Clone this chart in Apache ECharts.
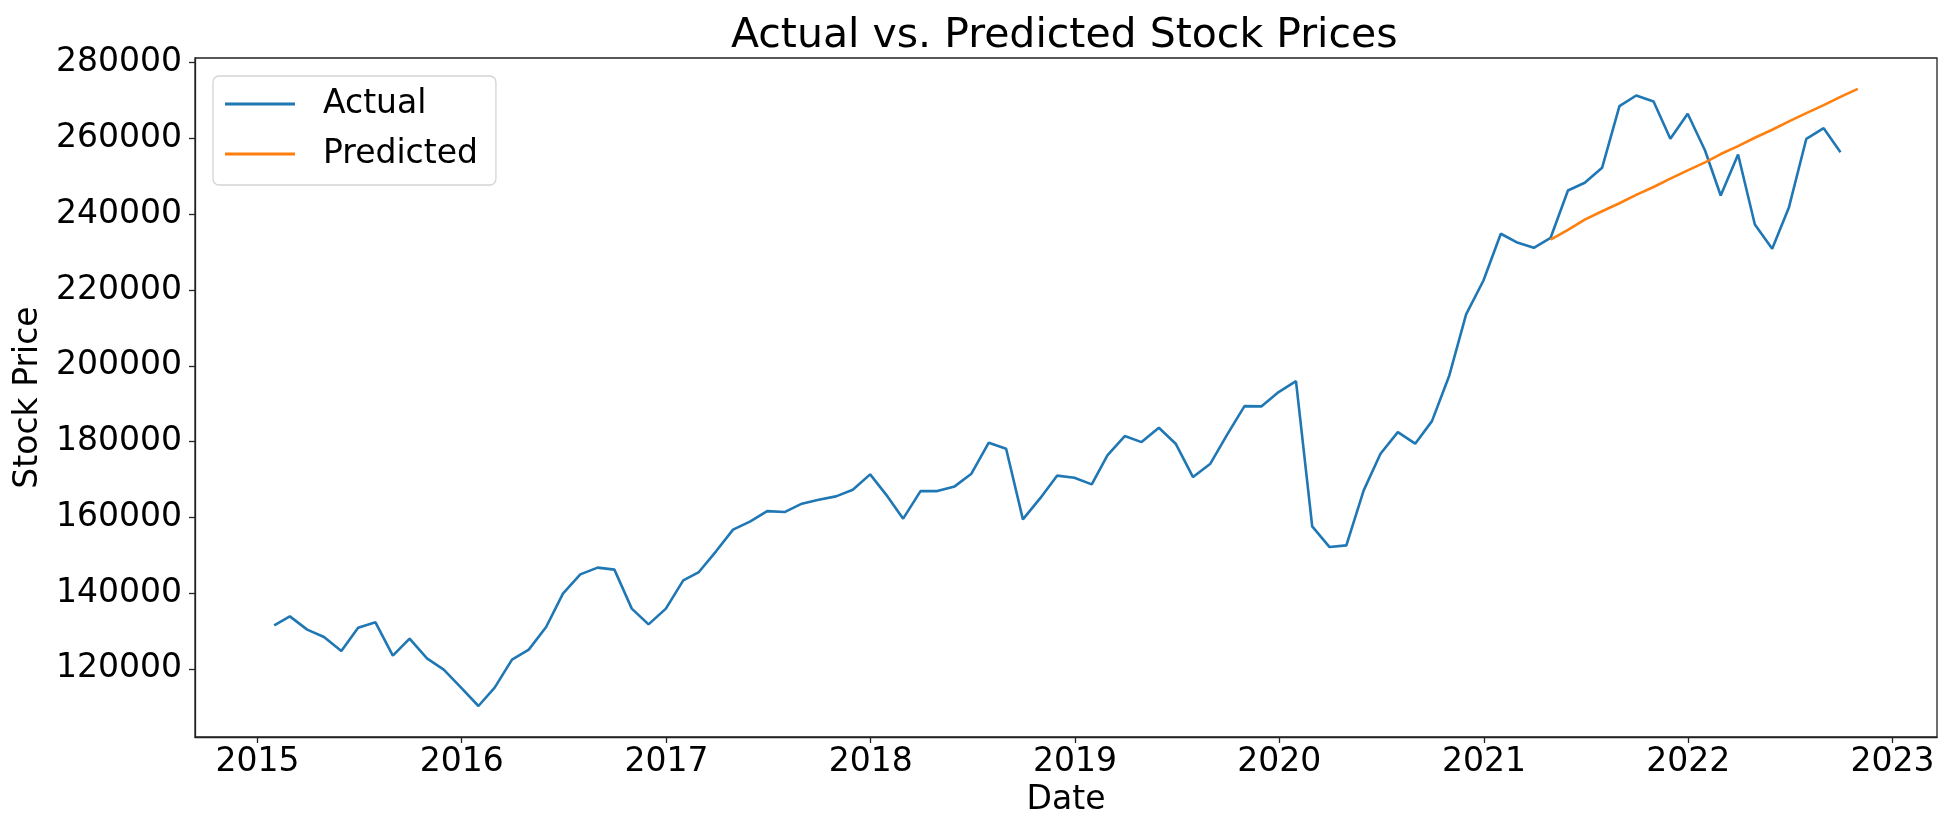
<!DOCTYPE html>
<html style="height: 100%">
<head>
	<meta charset="UTF-8">
	<title>Actual vs. Predicted Stock Prices</title>
	<script src="https://cdn.jsdelivr.net/npm/echarts@6/dist/echarts.min.js" type="text/javascript" charset="utf-8"></script>
</head>
<body style="height: 100%; margin: 0; background: #fff">
	<div id="container" style="width: 1950px; height: 830px;"></div>
<script type="text/javascript">
	// monthly observations (month-end)
	var actualMonths = [
		'2015-01', '2015-02', '2015-03', '2015-04', '2015-05', '2015-06', '2015-07', '2015-08', '2015-09', '2015-10', '2015-11', '2015-12',
		'2016-01', '2016-02', '2016-03', '2016-04', '2016-05', '2016-06', '2016-07', '2016-08', '2016-09', '2016-10', '2016-11', '2016-12',
		'2017-01', '2017-02', '2017-03', '2017-04', '2017-05', '2017-06', '2017-07', '2017-08', '2017-09', '2017-10', '2017-11', '2017-12',
		'2018-01', '2018-02', '2018-03', '2018-04', '2018-05', '2018-06', '2018-07', '2018-08', '2018-09', '2018-10', '2018-11', '2018-12',
		'2019-01', '2019-02', '2019-03', '2019-04', '2019-05', '2019-06', '2019-07', '2019-08', '2019-09', '2019-10', '2019-11', '2019-12',
		'2020-01', '2020-02', '2020-03', '2020-04', '2020-05', '2020-06', '2020-07', '2020-08', '2020-09', '2020-10', '2020-11', '2020-12',
		'2021-01', '2021-02', '2021-03', '2021-04', '2021-05', '2021-06', '2021-07', '2021-08', '2021-09', '2021-10', '2021-11', '2021-12',
		'2022-01', '2022-02', '2022-03', '2022-04', '2022-05', '2022-06', '2022-07', '2022-08', '2022-09'
	];
	var actualValues = [
		131480, 133850, 130340, 128390, 124700, 130870, 132270, 123480, 127970, 122770, 119790, 115040,
		110180, 115040, 122430, 125070, 131030, 139850, 144940, 146710, 146180, 135890, 131740, 135890,
		143360, 145550, 151090, 156740, 158930, 161640, 161380, 163600, 164650, 165520, 167290, 171330,
		165520, 159640, 166920, 166920, 168160, 171510, 179690, 178110, 159450, 165050, 170990, 170460,
		168690, 176340, 181440, 179850, 183650, 179430, 170620, 174150, 181810, 189350, 189270, 193050,
		195950, 157610, 152140, 152590, 167110, 176790, 182490, 179430, 185390, 197450, 213550, 222520,
		234850, 232630, 231150, 233790, 246280, 248310, 252270, 268530, 271350, 269770, 259920, 266520,
		256830, 244960, 255780, 237300, 230890, 241870, 259920, 262720, 256380
	];
	var predictedMonths = [
		'2021-04', '2021-05', '2021-06', '2021-07', '2021-08', '2021-09', '2021-10', '2021-11', '2021-12',
		'2022-01', '2022-02', '2022-03', '2022-04', '2022-05', '2022-06', '2022-07', '2022-08', '2022-09', '2022-10'
	];
	var predictedValues = [
		233300, 235900, 238600, 240800, 242900, 245100, 247200, 249400, 251600,
		253700, 255900, 258000, 260200, 262300, 264500, 266700, 268800, 271000, 273100
	];
	var yearTicks = [2015, 2016, 2017, 2018, 2019, 2020, 2021, 2022, 2023];
	var priceTicks = [120000, 140000, 160000, 180000, 200000, 220000, 240000, 260000, 280000];

	function monthEnd(ym) {
		var p = ym.split('-');
		return new Date(+p[0], +p[1], 0).getTime();
	}
	function pairs(months, values) {
		return months.map(function(m, i) { return [monthEnd(m), values[i]]; });
	}
	var yearStarts = yearTicks.map(function(y) { return new Date(y, 0, 1).getTime(); });

	var font = 'DejaVu Sans';
	var ink = '#222';
	var dom = document.getElementById('container');
	var myChart = echarts.init(dom);

	var option = {
		animation: false,
		backgroundColor: '#fff',
		textStyle: { fontFamily: font },
		title: {
			text: 'Actual vs. Predicted Stock Prices',
			left: 731,
			top: 16,
			padding: 0,
			textStyle: { fontFamily: font, fontSize: 41, fontWeight: 'normal', color: '#000' }
		},
		legend: {
			orient: 'vertical',
			left: 213,
			top: 76,
			padding: [10, 18, 13, 12],
			itemGap: 14,
			itemWidth: 70,
			itemHeight: 3,
			icon: 'rect',
			backgroundColor: 'rgba(255,255,255,0.8)',
			borderColor: '#d4d4d4',
			borderWidth: 1.3,
			borderRadius: 6,
			textStyle: { fontFamily: font, fontSize: 33, lineHeight: 36, color: '#000', padding: [0, 0, 0, 23] },
			data: ['Actual', 'Predicted']
		},
		grid: {
			left: 195, right: 13, top: 58, bottom: 93,
			show: true, borderColor: ink, borderWidth: 1.3,
			containLabel: false
		},
		xAxis: {
			type: 'value',
			min: new Date(2014, 8, 11, 12).getTime(),
			max: new Date(2023, 2, 21, 12).getTime(),
			name: 'Date',
			nameLocation: 'middle',
			nameGap: 42,
			nameTextStyle: { fontFamily: font, fontSize: 33, color: '#000' },
			axisLine: { show: true, lineStyle: { color: ink, width: 1.3 } },
			axisTick: {
				show: true, length: 6, lineStyle: { color: ink, width: 1.3 },
				customValues: yearStarts
			},
			axisLabel: {
				margin: 9,
				fontFamily: font, fontSize: 33, color: '#000',
				customValues: yearStarts,
				formatter: function(v) { return String(new Date(v).getFullYear()); }
			},
			splitLine: { show: false }
		},
		yAxis: {
			type: 'value',
			min: 102000,
			max: 281250,
			name: 'Stock Price',
			nameLocation: 'middle',
			nameGap: 150,
			nameTextStyle: { fontFamily: font, fontSize: 33, color: '#000' },
			axisLine: { show: true, lineStyle: { color: ink, width: 1.3 } },
			axisTick: { show: true, length: 6, lineStyle: { color: ink, width: 1.3 }, customValues: priceTicks },
			axisLabel: {
				margin: 13,
				fontFamily: font, fontSize: 33, color: '#000',
				customValues: priceTicks,
				formatter: function(v) { return String(v); }
			},
			splitLine: { show: false }
		},
		series: [{
			name: 'Actual',
			type: 'line',
			symbol: 'none',
			color: '#1f77b4',
			lineStyle: { width: 2.6, color: '#1f77b4' },
			data: pairs(actualMonths, actualValues)
		}, {
			name: 'Predicted',
			type: 'line',
			symbol: 'none',
			color: '#ff7f0e',
			lineStyle: { width: 2.6, color: '#ff7f0e' },
			data: pairs(predictedMonths, predictedValues)
		}]
	};

	myChart.setOption(option, true);
</script>
</body>
</html>
